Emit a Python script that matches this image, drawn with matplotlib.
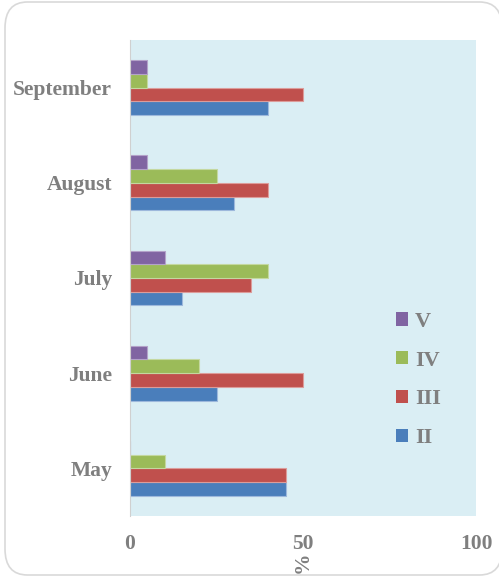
import matplotlib.pyplot as plt
import numpy as np
from matplotlib.patches import FancyBboxPatch, Patch

# data
months = ["May", "June", "July", "August", "September"]
series = ["II", "III", "IV", "V"]
val_II = [45, 25, 15, 30, 40]
val_III = [45, 50, 35, 40, 50]
val_IV = [10, 20, 40, 25, 5]
val_V = [0, 5, 10, 5, 5]
colors = ["#4a7ebb", "#c0504d", "#9bbb59", "#8064a2"]
edges = ["#9db8dc", "#dc9c9a", "#c4d8a0", "#b3a2c9"]

grey = "#7f7f7f"
plt.rcParams["font.family"] = ["Liberation Serif", "DejaVu Serif"]
plt.rcParams["font.weight"] = "bold"

fig = plt.figure(figsize=(4.99, 5.80), dpi=100)

#rounded frame round the whole chart, kept behind the axes
frame = FancyBboxPatch((5 / 499, 5 / 580), 497 / 499, 573 / 580,
                       boxstyle="round,pad=0,rounding_size=0.045",
                       transform=fig.transFigure, facecolor="white",
                       edgecolor="#d9d9d9", linewidth=1.2, zorder=-10)
fig.patches.append(frame)

ax = fig.add_axes([130 / 499, 1 - 516 / 580, 346 / 499, 476 / 580])
ax.set_facecolor("#daeef4")

y = np.arange(len(months))
h = 0.144
allvals = [val_II, val_III, val_IV, val_V]
for i in range(4):
    off = (i - 1.5) * h
    ax.barh(y + off, allvals[i], height=h, color=colors[i],
            edgecolor=edges[i], linewidth=0.8, label=series[i])

ax.set_xlim(0, 100)
ax.set_ylim(-0.5, 4.5)
ax.set_yticks(y)
ax.set_yticklabels(months)
ax.set_xticks([0, 50, 100])
ax.tick_params(length=0, labelsize=15.5, labelcolor=grey)
ax.tick_params(axis="y", pad=13)
ax.tick_params(axis="x", pad=13)
for s in ["top", "right", "bottom"]:
    ax.spines[s].set_visible(False)
ax.spines["left"].set_color("#d0d0d0")

# axis title "%" turned on its side, placed by hand under the 50 tick
fig.text(0.5 * (130 + 476) / 499, 1 - 562 / 580, "%", rotation=90,
         ha="center", va="center", fontsize=15.5, fontweight="bold", color=grey)

handles = [Patch(facecolor=colors[i]) for i in [3, 2, 1, 0]]
labels = [series[i] for i in [3, 2, 1, 0]]
fig.legend(handles, labels, loc="center left",
           bbox_to_anchor=(396 / 499, 1 - 380 / 580), frameon=False,
           fontsize=16, labelcolor=grey, handlelength=0.55, handleheight=0.55,
           handletextpad=0.3, labelspacing=0.85, borderpad=0, borderaxespad=0)

fig.savefig("out.png", dpi=100)
